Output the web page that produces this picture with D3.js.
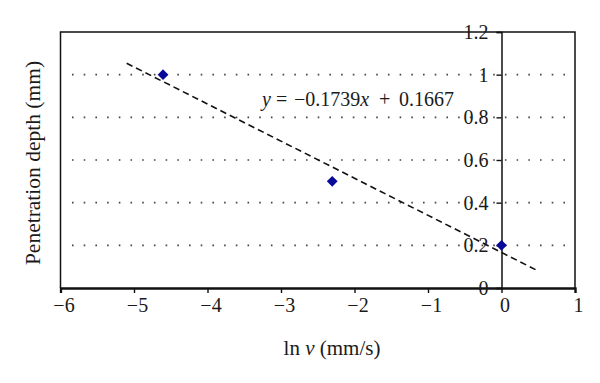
<!DOCTYPE html>
<html>
<head>
<meta charset="utf-8">
<script src="https://cdn.jsdelivr.net/npm/d3@7"></script>
<style>
  html, body { margin: 0; padding: 0; background: #fff; }
  svg { display: block; }
</style>
</head>
<body>
<svg id="chart" width="600" height="383"></svg>
<script>
// ---- data ----
const lnV = [-4.605, -2.303, 0];          // ln v (mm/s)
const depth = [1.0, 0.5, 0.2];            // penetration depth (mm)
const trendSlope = -0.1739;
const trendIntercept = 0.1667;
const trendRange = [-5.1, 0.5];
const xTicks = [-6, -5, -4, -3, -2, -1, 0, 1];
const yTicks = [0, 0.2, 0.4, 0.6, 0.8, 1, 1.2];
const gridValues = [0.2, 0.4, 0.6, 0.8, 1];
const yTitle = "Penetration depth (mm)";

// ---- layout ----
const FONT = '"Liberation Serif", "Times New Roman", serif';
const INK = "#1a1a1a";
const svg = d3.select("#chart");
const L = 60.5, R = 575, T = 32, B = 288;
const x = d3.scaleLinear().domain([-6, 1]).range([L, R]);
const y = d3.scaleLinear().domain([0, 1.2]).range([B, T]);

// gridlines (dotted)
svg.append("g").selectAll("line").data(gridValues).join("line")
  .attr("x1", L + 11.5).attr("x2", R)
  .attr("y1", d => y(d)).attr("y2", d => y(d))
  .attr("stroke", "#444").attr("stroke-width", 1.6)
  .attr("stroke-dasharray", "1.6 10.1");

// frame (top, left, right)
svg.append("path")
  .attr("d", `M${L},${B}V${T}H${R}V${B}`)
  .attr("fill", "none").attr("stroke", "#111").attr("stroke-width", 1.5);

// x axis
const fmt = d => (d < 0 ? "−" + Math.abs(d) : String(d));
const xAxis = svg.append("g").attr("transform", `translate(0,${B})`)
  .call(d3.axisBottom(x).tickValues(xTicks).tickSize(5).tickPadding(5).tickFormat(fmt));
xAxis.select(".domain").attr("stroke", "#111").attr("stroke-width", 2.3);
xAxis.selectAll(".tick line").attr("stroke", "#111").attr("stroke-width", 1.4);
xAxis.selectAll(".tick text").attr("dx", 3)
  .style("font-family", FONT).style("font-size", "20px").style("fill", INK);

// y axis at x = 0
const yAxis = svg.append("g").attr("transform", `translate(${x(0)},0)`)
  .call(d3.axisLeft(y).tickValues(yTicks).tickSize(5).tickPadding(8)
    .tickFormat(d => d3.format("~g")(d)));
yAxis.select(".domain").attr("stroke", "#111").attr("stroke-width", 1.5);
yAxis.selectAll(".tick line").attr("stroke", "#111").attr("stroke-width", 1.4);
yAxis.selectAll(".tick text")
  .style("font-family", FONT).style("font-size", "20px").style("fill", INK);

// trendline
svg.append("line")
  .attr("x1", x(trendRange[0])).attr("y1", y(trendSlope * trendRange[0] + trendIntercept))
  .attr("x2", x(trendRange[1])).attr("y2", y(trendSlope * trendRange[1] + trendIntercept))
  .attr("stroke", "#111").attr("stroke-width", 1.6)
  .attr("stroke-dasharray", "6.5 4");

// data points (diamonds)
svg.append("g").selectAll("path").data(lnV).join("path")
  .attr("d", d3.symbol(d3.symbolSquare, 58))
  .attr("transform", (d, i) => `translate(${x(d)},${y(depth[i])}) rotate(45)`)
  .attr("fill", "#0a0a9a");

// equation
const eq = svg.append("text").attr("y", 106)
  .style("font-family", FONT).style("font-size", "20px").style("fill", INK);
eq.append("tspan").attr("x", 262).style("font-style", "italic").text("y");
eq.append("tspan").attr("x", 276).text("=");
eq.append("tspan").attr("x", 294).text("−" + Math.abs(trendSlope).toFixed(4));
eq.append("tspan").style("font-style", "italic").text("x");
eq.append("tspan").attr("x", 379).text("+");
eq.append("tspan").attr("x", 399).text(trendIntercept.toFixed(4));

// axis titles
const xt = svg.append("text").attr("x", 332).attr("y", 355)
  .attr("text-anchor", "middle")
  .style("font-family", FONT).style("font-size", "21px").style("fill", INK);
xt.append("tspan").text("ln ");
xt.append("tspan").style("font-style", "italic").text("ν");
xt.append("tspan").text(" (mm/s)");

svg.append("text")
  .attr("transform", "translate(39.5,163) rotate(-90)")
  .attr("text-anchor", "middle")
  .style("font-family", FONT).style("font-size", "21.5px").style("fill", INK)
  .text(yTitle);
</script>
</body>
</html>
